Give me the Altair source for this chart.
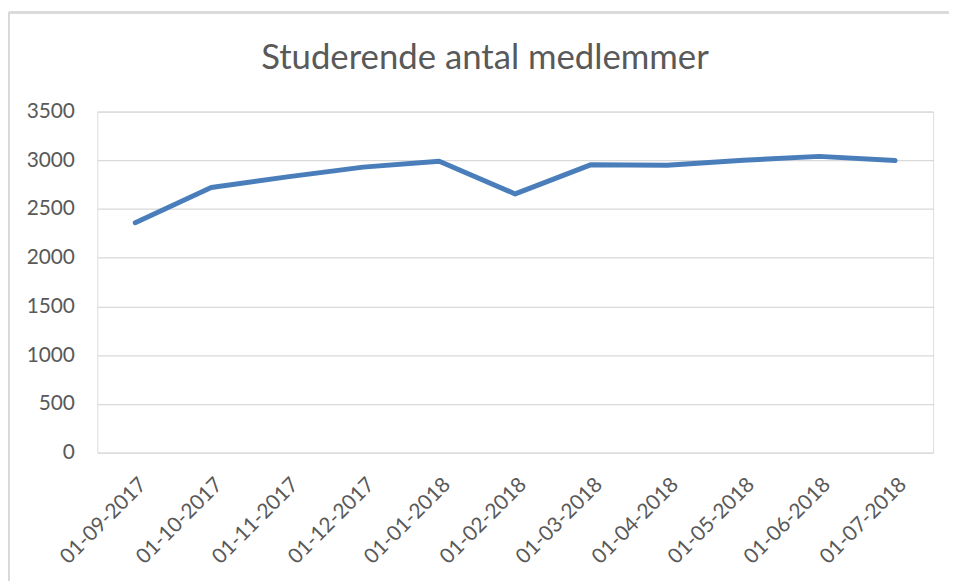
import altair as alt
import pandas as pd

dates = ["01-09-2017", "01-10-2017", "01-11-2017", "01-12-2017", "01-01-2018",
         "01-02-2018", "01-03-2018", "01-04-2018", "01-05-2018", "01-06-2018",
         "01-07-2018"]
members = [2360, 2720, 2830, 2930, 2990, 2655, 2955, 2950, 3000, 3040, 2997]
title_text = "Studerende antal medlemmer"

df = pd.DataFrame({"dato": dates, "medlemmer": members})

FONT = "Lato"
GREY = "#595959"

x_enc = alt.X("dato:N", sort=dates, title=None,
              scale=alt.Scale(paddingInner=0, paddingOuter=0.5),
              axis=alt.Axis(labelAngle=-45, labelFontSize=21, labelColor=GREY,
                            labelFont=FONT, ticks=False, domain=False,
                            grid=False, labelPadding=21))
y_enc = alt.Y("medlemmer:Q", title=None,
              scale=alt.Scale(domain=[0, 3500], nice=False),
              axis=alt.Axis(values=[0, 500, 1000, 1500, 2000, 2500, 3000, 3500],
                            format="d",
                            labelFontSize=21, labelColor=GREY, labelFont=FONT,
                            ticks=False, tickSize=0, domain=False, labelPadding=23,
                            grid=True, gridColor="#D9D9D9", gridWidth=1.3))

line = alt.Chart(df).mark_line(color="#4A7EBB", strokeWidth=5,
                               strokeCap="round", strokeJoin="round").encode(
    x=x_enc, y=y_enc)

title_mark = alt.Chart(pd.DataFrame({"t": [title_text]})).mark_text(
    font=FONT, fontSize=35, color=GREY, align="center", baseline="alphabetic"
).encode(text="t:N", x=alt.value(391), y=alt.value(-43))

frame_color = "#D9D9D9"
left_rule = alt.Chart(df).mark_rule(color=frame_color, strokeWidth=1.5).encode(
    x=alt.value(-89), y=alt.value(-100), y2=alt.value(480))
top_rule = alt.Chart(df).mark_rule(color=frame_color, strokeWidth=1.5).encode(
    x=alt.value(-89), x2=alt.value(870), y=alt.value(-100))

chart = alt.layer(line, title_mark, left_rule, top_rule).properties(
    width=843, height=344,
    autosize=alt.AutoSizeParams(type="none"),
    padding={"left": 90, "top": 102, "right": 16, "bottom": 127},
).configure_view(stroke=None).configure(background="white")

chart.save("out.html", embed_options={"renderer": "svg", "actions": False})
